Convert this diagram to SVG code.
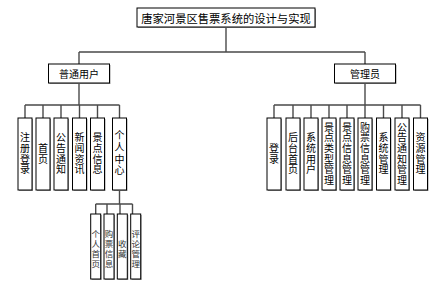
<svg xmlns="http://www.w3.org/2000/svg" width="437" height="290" viewBox="0 0 437 290">
<style>
.b{fill:#fff;stroke:#000;stroke-width:1}
.s{fill:#9a9a9a}
.t{font-family:"Noto Sans CJK SC","Liberation Sans",sans-serif;fill:#000}
.h{font-size:10.5px;text-anchor:middle;dominant-baseline:central}
.v{font-size:10px;writing-mode:tb;text-anchor:middle;letter-spacing:0.7px}
.w{font-size:8.5px;writing-mode:tb;text-anchor:middle;letter-spacing:1.5px;fill:#333}
.c{fill:none;stroke:#4a4a4a;stroke-width:1.4}
</style>
<rect width="437" height="290" fill="#fff"/>
<g id="connectors">
<path class="c" d="M226 27V52M79 52H365M79 52V64M365 52V64"/>
<path class="c" d="M79 83V105M25 105H119.5M25 105V118M43 105V118M61 105V118M79.5 105V118M97.5 105V118M119.5 105V118"/>
<path class="c" d="M365 83V105M274 105H420.5M274 105V118M293 105V118M311 105V118M329 105V118M347 105V118M365 105V118M383.5 105V118M402 105V118M420.5 105V118"/>
<path class="c" d="M119.5 190V204M95.7 204H132.5M95.7 204V214M107 204V214M120 204V214M132.5 204V214"/>
</g>
<g id="root"><rect class="s" x="138" y="9" width="178" height="19"/><rect class="b" x="137" y="8" width="178" height="19"/><text class="t h" x="226" y="17.5" style="font-size:11.3px">唐家河景区售票系统的设计与实现</text></g>
<g id="user"><rect class="s" x="49.5" y="65" width="61" height="19"/><rect class="b" x="48.5" y="64" width="61" height="19"/><text class="t h" x="79" y="73.5" style="font-size:10px">普通用户</text></g>
<g id="admin"><rect class="s" x="335.5" y="65" width="61" height="19"/><rect class="b" x="334.5" y="64" width="61" height="19"/><text class="t h" x="365" y="73.5" style="font-size:10px">管理员</text></g>

<g id="u1"><rect class="s" x="19" y="119" width="14" height="72"/><rect class="b" x="18" y="118" width="14" height="72"/><text class="t v" x="25" y="154">注册登录</text></g>
<g id="u2"><rect class="s" x="37" y="119" width="14" height="72"/><rect class="b" x="36" y="118" width="14" height="72"/><text class="t v" x="43" y="154">首页</text></g>
<g id="u3"><rect class="s" x="55" y="119" width="14" height="72"/><rect class="b" x="54" y="118" width="14" height="72"/><text class="t v" x="61" y="154">公告通知</text></g>
<g id="u4"><rect class="s" x="73.5" y="119" width="14" height="72"/><rect class="b" x="72.5" y="118" width="14" height="72"/><text class="t v" x="79.5" y="154">新闻资讯</text></g>
<g id="u5"><rect class="s" x="91.5" y="119" width="14" height="72"/><rect class="b" x="90.5" y="118" width="14" height="72"/><text class="t v" x="97.5" y="154">景点信息</text></g>
<g id="u6"><rect class="s" x="113.5" y="119" width="14" height="72"/><rect class="b" x="112.5" y="118" width="14" height="72"/><text class="t v" x="119.5" y="154" style="letter-spacing:1.7px">个人中心</text></g>

<g id="p1"><rect class="s" x="91.7" y="215" width="10" height="65"/><rect class="b" x="90.7" y="214" width="10" height="65"/><text class="t w" x="95.7" y="250">个人首页</text></g>
<g id="p2"><rect class="s" x="105" y="215" width="10" height="65"/><rect class="b" x="104" y="214" width="10" height="65"/><text class="t w" x="109" y="250">购票信息</text></g>
<g id="p3"><rect class="s" x="118.3" y="215" width="10" height="65"/><rect class="b" x="117.3" y="214" width="10" height="65"/><text class="t w" x="122.3" y="250">收藏</text></g>
<g id="p4"><rect class="s" x="131.7" y="215" width="10" height="65"/><rect class="b" x="130.7" y="214" width="10" height="65"/><text class="t w" x="135.7" y="250">评论管理</text></g>

<g id="a1"><rect class="s" x="268" y="119" width="14" height="72"/><rect class="b" x="267" y="118" width="14" height="72"/><text class="t v" x="274" y="154">登录</text></g>
<g id="a2"><rect class="s" x="287" y="119" width="14" height="72"/><rect class="b" x="286" y="118" width="14" height="72"/><text class="t v" x="293" y="154">后台首页</text></g>
<g id="a3"><rect class="s" x="305" y="119" width="14" height="72"/><rect class="b" x="304" y="118" width="14" height="72"/><text class="t v" x="311" y="154">系统用户</text></g>
<g id="a4"><rect class="s" x="323" y="119" width="14" height="72"/><rect class="b" x="322" y="118" width="14" height="72"/><text class="t v" x="329" y="154">景点类型管理</text></g>
<g id="a5"><rect class="s" x="341" y="119" width="14" height="72"/><rect class="b" x="340" y="118" width="14" height="72"/><text class="t v" x="347" y="154">景点信息管理</text></g>
<g id="a6"><rect class="s" x="359" y="119" width="14" height="72"/><rect class="b" x="358" y="118" width="14" height="72"/><text class="t v" x="365" y="154">购票信息管理</text></g>
<g id="a7"><rect class="s" x="377.5" y="119" width="14" height="72"/><rect class="b" x="376.5" y="118" width="14" height="72"/><text class="t v" x="383.5" y="154">系统管理</text></g>
<g id="a8"><rect class="s" x="396" y="119" width="14" height="72"/><rect class="b" x="395" y="118" width="14" height="72"/><text class="t v" x="402" y="154">公告通知管理</text></g>
<g id="a9"><rect class="s" x="414.5" y="119" width="14" height="72"/><rect class="b" x="413.5" y="118" width="14" height="72"/><text class="t v" x="420.5" y="154">资源管理</text></g>
</svg>
